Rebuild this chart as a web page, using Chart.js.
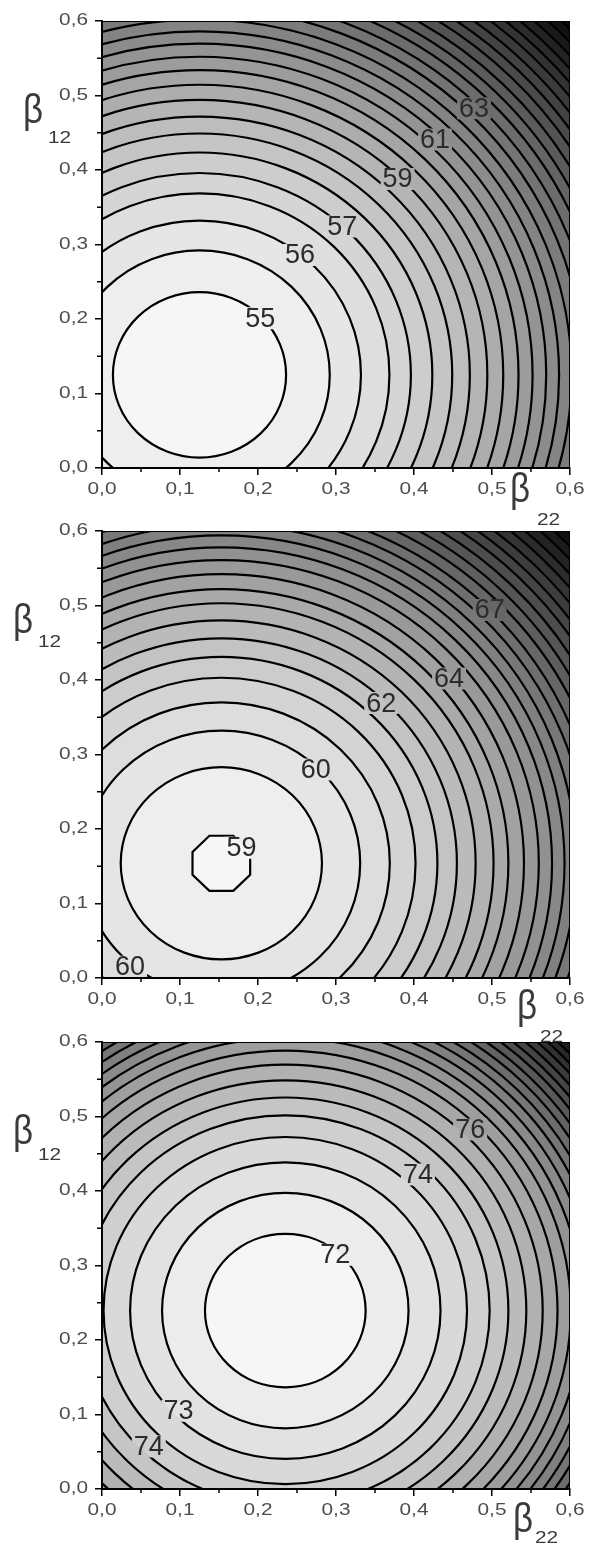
<!DOCTYPE html>
<html>
<head>
<meta charset="utf-8">
<script src="https://cdn.jsdelivr.net/npm/chart.js@4.4.1/dist/chart.umd.min.js"></script>
<style>
  html, body { margin: 0; padding: 0; background: #fff; width: 589px; height: 1546px; overflow: hidden; }
  .painel { position: absolute; left: 0; width: 589px; height: 545px; }
</style>
</head>
<body>
<div class="painel" style="top:0px"><canvas id="c1" width="589" height="545"></canvas></div>
<div class="painel" style="top:510px"><canvas id="c2" width="589" height="545"></canvas></div>
<div class="painel" style="top:1021px"><canvas id="c3" width="589" height="545"></canvas></div>
<script>
// ====== AXES ======
const tickValues = [0, 0.1, 0.2, 0.3, 0.4, 0.5, 0.6];
const tickLabels = ["0,0", "0,1", "0,2", "0,3", "0,4", "0,5", "0,6"];
const minorTicks = [0.05, 0.15, 0.25, 0.35, 0.45, 0.55];

// ====== PANEL 1 ======
const p1Center = [0.125, 0.125];
const p1Levels = [55, 55.5, 56, 56.5, 57, 57.5, 58, 58.5, 59, 59.5, 60, 60.5, 61, 61.5, 62,
  62.5, 63, 63.5, 64, 64.5, 65, 65.5, 66, 66.5, 67, 67.5, 68, 68.5, 69];
const p1Radii = [0.111, 0.167, 0.207, 0.2435, 0.271, 0.2985, 0.324, 0.3466, 0.369, 0.3894, 0.409,
  0.427, 0.4445, 0.461, 0.477, 0.493, 0.508, 0.523, 0.537, 0.551, 0.565, 0.578, 0.591, 0.604,
  0.616, 0.628, 0.64, 0.652, 0.664];
const p1LabelText = ["55", "56", "57", "59", "61", "63"];
const p1LabelX = [0.203, 0.254, 0.308, 0.379, 0.427, 0.477];
const p1LabelY = [0.201, 0.286, 0.324, 0.388, 0.441, 0.483];

// ====== PANEL 2 ======
const p2Center = [0.153, 0.154];
const p2Levels = [59, 59.5, 60, 60.5, 61, 61.5, 62, 62.5, 63, 63.5, 64, 64.5, 65, 65.5, 66,
  66.5, 67, 67.5, 68, 68.5, 69, 69.5, 70, 70.5, 71, 71.5, 72, 72.5];
const p2Radii = [0.04, 0.129, 0.178, 0.216, 0.249, 0.277, 0.302, 0.326, 0.349, 0.368, 0.388,
  0.407, 0.424, 0.44, 0.455, 0.47, 0.484, 0.499, 0.513, 0.527, 0.541, 0.554, 0.567, 0.58,
  0.592, 0.605, 0.617, 0.629];
const p2LabelText = ["59", "60", "60", "62", "64", "67"];
const p2LabelX = [0.179, 0.274, 0.036, 0.358, 0.445, 0.497];
const p2LabelY = [0.175, 0.28, 0.015, 0.369, 0.402, 0.494];

// ====== PANEL 3 ======
const p3Center = [0.235, 0.2395];
const p3Levels = [72, 72.5, 73, 73.5, 74, 74.5, 75, 75.5, 76, 76.5, 77, 77.5, 78, 78.5, 79,
  79.5, 80, 80.5, 81, 81.5, 82, 82.5, 83, 83.5];
const p3Radii = [0.103, 0.158, 0.199, 0.233, 0.262, 0.286, 0.309, 0.33, 0.349, 0.366, 0.381,
  0.395, 0.408, 0.42, 0.432, 0.443, 0.454, 0.464, 0.474, 0.484, 0.493, 0.502, 0.511, 0.52];
const p3LabelText = ["72", "73", "74", "74", "76"];
const p3LabelX = [0.299, 0.098, 0.06, 0.405, 0.472];
const p3LabelY = [0.3145, 0.105, 0.057, 0.422, 0.4825];

const panels = [
  { id: "c1", center: p1Center, levels: p1Levels, radii: p1Radii, text: p1LabelText, lx: p1LabelX, ly: p1LabelY,
    yTitle: [23, 48, 143], xTitle: [510, 470, 537, 525] },
  { id: "c2", center: p2Center, levels: p2Levels, radii: p2Radii, text: p2LabelText, lx: p2LabelX, ly: p2LabelY,
    yTitle: [13, 38, 137], xTitle: [517, 477, 540, 532], octagon: true },
  { id: "c3", center: p3Center, levels: p3Levels, radii: p3Radii, text: p3LabelText, lx: p3LabelX, ly: p3LabelY,
    yTitle: [13, 38, 139], xTitle: [513, 479, 535, 522] }
];

const LABEL_FONT = '27px "Liberation Sans", Arial, sans-serif';
const TICK_FONT = '16px "Liberation Sans", Arial, sans-serif';

function shade(t) {
  const g = Math.round(246 - t * 236);
  return `rgb(${g},${g},${g})`;
}

function shapePath(ctx, x, y, p, i) {
  const cx = x.getPixelForValue(p.center[0]);
  const cy = y.getPixelForValue(p.center[1]);
  const rx = x.getPixelForValue(p.center[0] + p.radii[i]) - cx;
  const ry = cy - y.getPixelForValue(p.center[1] + p.radii[i]);
  ctx.beginPath();
  if (p.octagon && i === 0) {
    for (let k = 0; k < 8; k++) {
      const ang = (22.5 + 45 * k) * Math.PI / 180;
      const px = cx + rx * Math.cos(ang);
      const py = cy - ry * Math.sin(ang);
      if (k === 0) ctx.moveTo(px, py); else ctx.lineTo(px, py);
    }
    ctx.closePath();
  } else {
    ctx.ellipse(cx, cy, rx, ry, 0, 0, Math.PI * 2);
  }
}

// ====== CONTOURS ======
function contourPlugin(p) {
  return {
    id: "contour",
    beforeDraw(chart) {
      const { ctx, chartArea: a, scales: { x, y } } = chart;
      const n = p.radii.length;

      // fills, from outside in
      ctx.save();
      ctx.beginPath();
      ctx.rect(a.left, a.top, a.right - a.left, a.bottom - a.top);
      ctx.clip();
      ctx.fillStyle = shade(1);
      ctx.fillRect(a.left, a.top, a.right - a.left, a.bottom - a.top);
      for (let i = n - 1; i >= 0; i--) {
        shapePath(ctx, x, y, p, i);
        ctx.fillStyle = shade(i / n);
        ctx.fill();
      }
      ctx.restore();

      // lines, broken under the labels
      ctx.save();
      ctx.font = LABEL_FONT;
      const boxes = p.text.map((t, k) => ({
        t,
        bx: x.getPixelForValue(p.lx[k]),
        by: y.getPixelForValue(p.ly[k]),
        w: ctx.measureText(t).width
      }));
      ctx.beginPath();
      ctx.rect(a.left, a.top, a.right - a.left, a.bottom - a.top);
      boxes.forEach(b => ctx.rect(b.bx - b.w / 2 - 2, b.by - 11, b.w + 4, 22));
      ctx.clip("evenodd");
      ctx.strokeStyle = "#000";
      ctx.lineWidth = 2.2;
      for (let i = 0; i < n; i++) {
        shapePath(ctx, x, y, p, i);
        ctx.stroke();
      }
      ctx.restore();

      ctx.save();
      ctx.font = LABEL_FONT;
      ctx.fillStyle = "#2b2b2b";
      ctx.textAlign = "center";
      ctx.textBaseline = "middle";
      boxes.forEach(b => ctx.fillText(b.t, b.bx, b.by + 1));
      ctx.restore();
    },
    afterDraw(chart) {
      const { ctx, chartArea: a, scales: { x, y } } = chart;
      ctx.save();

      // frame top / right
      ctx.strokeStyle = "#000";
      ctx.lineWidth = 1;
      ctx.beginPath();
      ctx.moveTo(a.left, a.top + 0.5);
      ctx.lineTo(a.right - 0.5, a.top + 0.5);
      ctx.lineTo(a.right - 0.5, a.bottom);
      ctx.stroke();

      // minor ticks
      ctx.lineWidth = 1.5;
      ctx.beginPath();
      minorTicks.forEach(v => {
        const px = x.getPixelForValue(v);
        ctx.moveTo(px, a.bottom);
        ctx.lineTo(px, a.bottom + 4);
        const py = y.getPixelForValue(v);
        ctx.moveTo(a.left, py);
        ctx.lineTo(a.left - 5, py);
      });
      ctx.stroke();

      // tick labels
      ctx.fillStyle = "#4d4d4d";
      ctx.font = TICK_FONT;
      ctx.textBaseline = "middle";
      tickValues.forEach((v, i) => {
        ctx.save();
        ctx.translate(x.getPixelForValue(v), a.bottom + 22);
        ctx.scale(1.3, 1);
        ctx.textAlign = "center";
        ctx.fillText(tickLabels[i], 0, 0);
        ctx.restore();

        ctx.save();
        ctx.translate(a.left - 14, y.getPixelForValue(v));
        ctx.scale(1.3, 1);
        ctx.textAlign = "right";
        ctx.fillText(tickLabels[i], 0, 0);
        ctx.restore();
      });

      // axis titles
      ctx.fillStyle = "#3a3a3a";
      ctx.textBaseline = "top";
      ctx.textAlign = "left";
      ctx.save();
      ctx.translate(p.yTitle[0], 91);
      ctx.scale(0.85, 1);
      ctx.font = '41px "Liberation Sans", Arial, sans-serif';
      ctx.fillText("β", 0, 0);
      ctx.restore();
      ctx.save();
      ctx.translate(p.xTitle[0], p.xTitle[1]);
      ctx.scale(0.85, 1);
      ctx.font = '41px "Liberation Sans", Arial, sans-serif';
      ctx.fillText("β", 0, 0);
      ctx.restore();

      ctx.textBaseline = "alphabetic";
      ctx.font = TICK_FONT;
      ctx.save();
      ctx.translate(p.yTitle[1], p.yTitle[2]);
      ctx.scale(1.3, 1);
      ctx.fillText("12", 0, 0);
      ctx.restore();
      ctx.save();
      ctx.translate(p.xTitle[2], p.xTitle[3]);
      ctx.scale(1.3, 1);
      ctx.fillText("22", 0, 0);
      ctx.restore();

      ctx.restore();
    }
  };
}

function axis(size, isX) {
  return {
    type: "linear",
    min: 0,
    max: 0.6,
    afterBuildTicks: s => { s.ticks = tickValues.map(v => ({ value: v })); },
    ticks: { display: false },
    grid: { drawOnChartArea: false, drawTicks: true, tickLength: 7, color: "#000", lineWidth: 1.5 },
    border: { display: true, color: "#000", width: 2 },
    afterFit: s => { if (isX) s.height = size; else s.width = size; }
  };
}

// ====== CHARTS ======
panels.forEach(p => {
  new Chart(document.getElementById(p.id), {
    type: "scatter",
    data: { datasets: [{ data: [], pointRadius: 0 }] },
    options: {
      responsive: false,
      animation: false,
      events: [],
      layout: { padding: { top: 21, right: 19, left: 0, bottom: 0 } },
      plugins: { legend: { display: false }, tooltip: { enabled: false } },
      scales: { x: axis(77, true), y: axis(102, false) }
    },
    plugins: [contourPlugin(p)]
  });
});
</script>
</body>
</html>
